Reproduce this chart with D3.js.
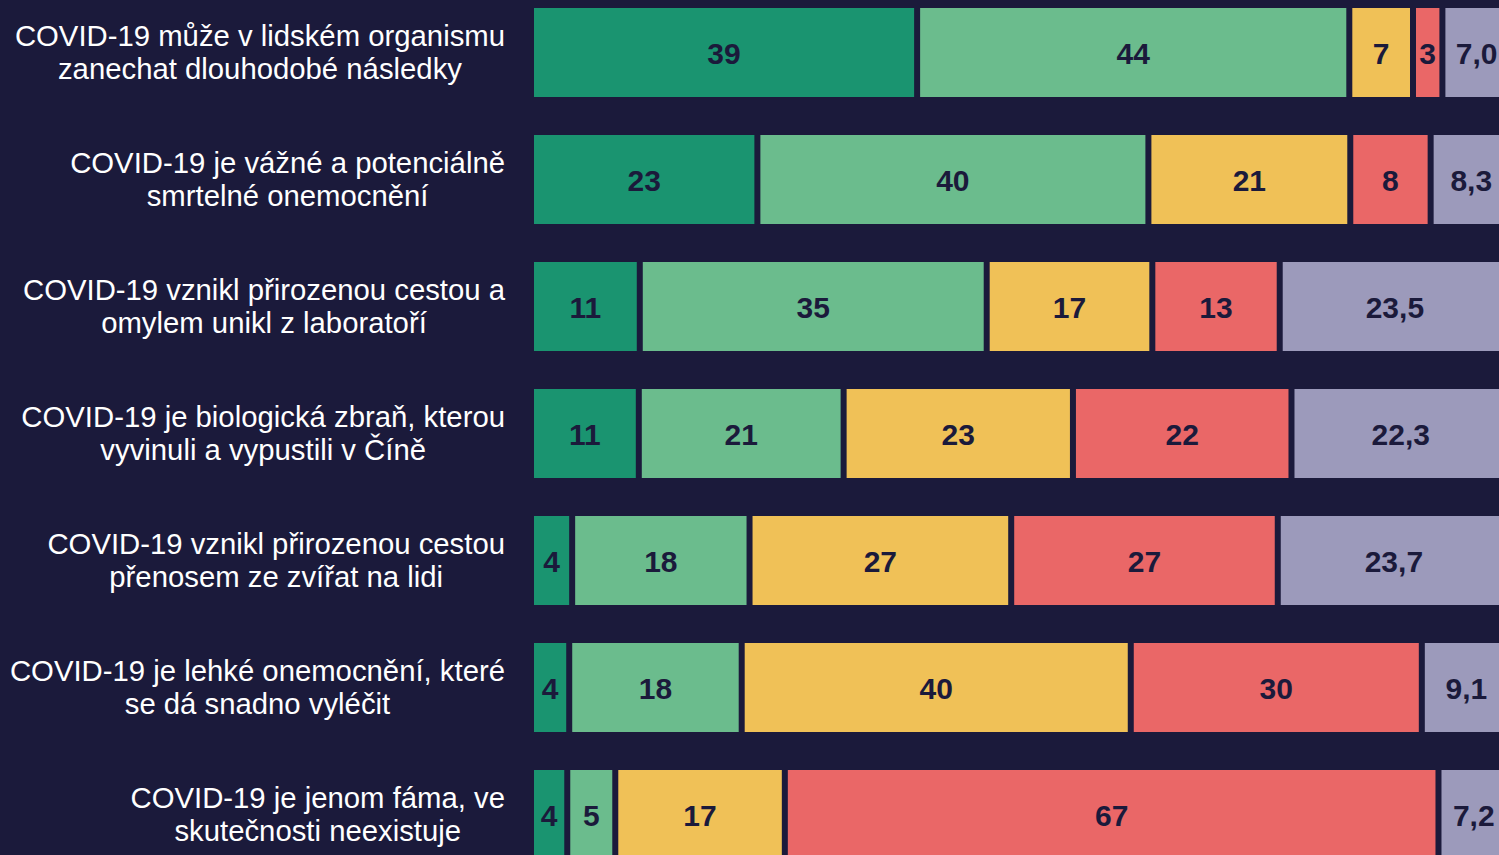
<!DOCTYPE html>
<html>
<head>
<meta charset="utf-8">
<script src="https://cdn.jsdelivr.net/npm/d3@7"></script>
<style>
  html, body { margin: 0; padding: 0; background: #1b1a3b; overflow: hidden; }
  svg { display: block; }
</style>
</head>
<body>
<div id="chart"></div>
<script>
/* data, shares in % */
var categories = [
  ["COVID-19 může v lidském organismu", "zanechat dlouhodobé následky"],
  ["COVID-19 je vážné a potenciálně", "smrtelné onemocnění"],
  ["COVID-19 vznikl přirozenou cestou a", "omylem unikl z laboratoří"],
  ["COVID-19 je biologická zbraň, kterou", "vyvinuli a vypustili v Číně"],
  ["COVID-19 vznikl přirozenou cestou", "přenosem ze zvířat na lidi"],
  ["COVID-19 je lehké onemocnění, které", "se dá snadno vyléčit"],
  ["COVID-19 je jenom fáma, ve", "skutečnosti neexistuje"]
];
var rozhodneAno = [39.4, 23.1, 11.1, 11.0, 4.2, 3.9, 3.7];
var spiseAno    = [44.1, 39.9, 35.4, 20.9, 18.1, 17.6, 4.9];
var spiseNe     = [6.5, 20.6, 16.9, 23.4, 26.7, 39.7, 17.3];
var rozhodneNe  = [3.0, 8.2, 13.0, 22.3, 27.2, 29.7, 66.7];
var nevim       = [7.0, 8.3, 23.5, 22.3, 23.7, 9.1, 7.2];

var series = [rozhodneAno, spiseAno, spiseNe, rozhodneNe, nevim];
var colors = ["#1a9470", "#6bbc8d", "#f0c157", "#ea6767", "#9c9abb"];

var width = 1499, height = 855;
var bg = "#1b1a3b";

var svg = d3.select("#chart")
            .append("svg")
            .attr("width", width)
            .attr("height", height);

svg.append("rect").attr("width", width).attr("height", height).attr("fill", bg);

var x = d3.scaleLinear()
          .domain([0, 100])
          .range([534, 534 + 980]);

var y = d3.scaleBand()
          .domain(d3.range(categories.length))
          .range([-11, -11 + 127 * categories.length])
          .paddingInner(38 / 127)
          .paddingOuter(19 / 127);

var gap = 6;

/* build stacked table */
var rows = categories.map(function (c, i) {
  var cum = 0;
  return series.map(function (s, k) {
    var seg = { row: i, k: k, v: s[i], x0: cum, x1: cum + s[i] };
    cum += s[i];
    return seg;
  });
});
var segs = [].concat.apply([], rows);

var fmtLast = function (v) { return d3.format(".1f")(v).replace(".", ","); };

var g = svg.selectAll(".seg")
   .data(segs)
   .enter()
   .append("g")
   .attr("class", "seg");

g.append("rect")
   .attr("x", function (d) { return x(d.x0); })
   .attr("y", function (d) { return y(d.row); })
   .attr("width", function (d) { return Math.max(0, x(d.x1) - x(d.x0) - gap); })
   .attr("height", y.bandwidth())
   .style("fill", function (d) { return colors[d.k]; });

g.append("text")
   .attr("x", function (d) { return (x(d.x0) + x(d.x1) - gap) / 2; })
   .attr("y", function (d) { return y(d.row) + y.bandwidth() / 2 + 11; })
   .attr("text-anchor", "middle")
   .style("font-family", "'Liberation Sans', Arial, sans-serif")
   .style("font-weight", "bold")
   .style("font-size", "30px")
   .style("fill", bg)
   .text(function (d) { return d.k === 4 ? fmtLast(d.v) : d3.format(".0f")(d.v); });

/* category labels: block right-aligned, lines centred inside it */
var labelRight = 505;
var lab = svg.selectAll(".lab")
   .data(categories)
   .enter()
   .append("text")
   .attr("class", "lab")
   .attr("text-anchor", "middle")
   .style("font-family", "'Liberation Sans', Arial, sans-serif")
   .style("font-size", "29.3px")
   .style("fill", "#ffffff");

lab.each(function (d, i) {
  var t = d3.select(this);
  var cy = y(i) + y.bandwidth() / 2;
  d.forEach(function (line, j) {
    t.append("tspan")
     .attr("y", cy - 7 + j * 33.5)
     .text(line);
  });
  var maxW = 0;
  t.selectAll("tspan").each(function () { maxW = Math.max(maxW, this.getComputedTextLength()); });
  t.selectAll("tspan").attr("x", labelRight - maxW / 2);
});
</script>
</body>
</html>
